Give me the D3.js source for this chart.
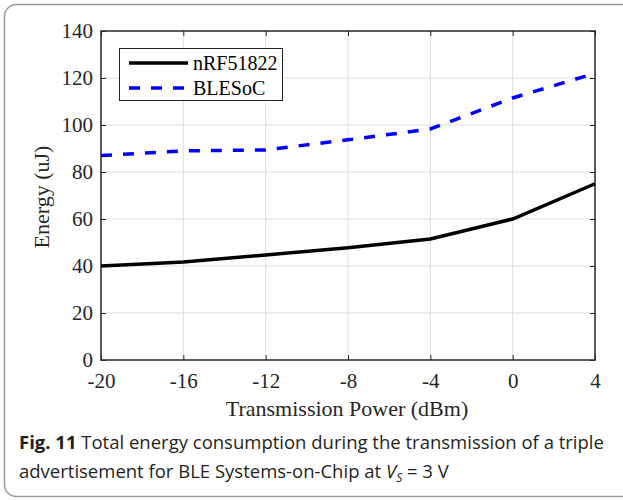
<!DOCTYPE html>
<html>
<head>
<meta charset="utf-8">
<script src="https://cdn.jsdelivr.net/npm/d3@7"></script>
<style>
  body { margin: 0; background: #fff; }
  svg { display: block; }
</style>
</head>
<body>
<div class="chart"></div>
<script>
// data
const power = [-20, -16, -12, -8, -4, 0, 4];
const nrf51822 = [40, 41.7, 44.7, 47.8, 51.5, 60, 75];
const blesoc = [87, 89, 89.4, 93.7, 98.3, 111.5, 122];
const yTicks = [0, 20, 40, 60, 80, 100, 120, 140];

const W = 623, H = 500;
const pLeft = 101, pRight = 595, pTop = 31, pBottom = 360;
const serif = "'Liberation Serif', 'Times New Roman', serif";
const sans = "'Open Sans', 'Noto Sans', sans-serif";

const svg = d3.select(".chart").append("svg")
    .attr("width", W).attr("height", H);

// rounded figure frame
svg.append("rect")
    .attr("x", 4.5).attr("y", 4.5)
    .attr("width", 640).attr("height", 492)
    .attr("rx", 12)
    .attr("fill", "none")
    .attr("stroke", "#9a9a9a")
    .attr("stroke-width", 1.5);

const x = d3.scaleLinear().domain([-20, 4]).range([pLeft, pRight]);
const y = d3.scaleLinear().domain([0, 140]).range([pBottom, pTop]);

// grid
svg.append("g").selectAll("line").data(power.slice(1, -1)).join("line")
    .attr("x1", d => x(d)).attr("x2", d => x(d))
    .attr("y1", pTop).attr("y2", pBottom)
    .attr("stroke", "#dedede").attr("stroke-width", 1);
svg.append("g").selectAll("line").data(yTicks.slice(1, -1)).join("line")
    .attr("x1", pLeft).attr("x2", pRight)
    .attr("y1", d => y(d)).attr("y2", d => y(d))
    .attr("stroke", "#dedede").attr("stroke-width", 1);

// axes (ticks pointing in, MATLAB style)
function styleAxis(g) {
    g.select(".domain").remove();
    g.selectAll("line").attr("stroke", "#262626").attr("stroke-width", 1);
    g.selectAll("text").attr("font-family", serif).attr("font-size", 21).attr("fill", "#262626");
}
svg.append("g")
    .attr("transform", "translate(0," + pBottom + ")")
    .call(d3.axisBottom(x).tickValues(power).tickSizeInner(-5).tickSizeOuter(0).tickPadding(13).tickFormat(d => String(d)))
    .call(styleAxis);
svg.append("g")
    .attr("transform", "translate(0," + pTop + ")")
    .call(d3.axisTop(x).tickValues(power).tickSizeInner(-5).tickSizeOuter(0).tickFormat(""))
    .call(styleAxis);
svg.append("g")
    .attr("transform", "translate(" + pLeft + ",0)")
    .call(d3.axisLeft(y).tickValues(yTicks).tickSizeInner(-5).tickSizeOuter(0).tickPadding(8))
    .call(styleAxis);
svg.append("g")
    .attr("transform", "translate(" + pRight + ",0)")
    .call(d3.axisRight(y).tickValues(yTicks).tickSizeInner(-5).tickSizeOuter(0).tickFormat(""))
    .call(styleAxis);

// box
svg.append("rect")
    .attr("x", pLeft).attr("y", pTop)
    .attr("width", pRight - pLeft).attr("height", pBottom - pTop)
    .attr("fill", "none").attr("stroke", "#262626").attr("stroke-width", 1.5);

// lines
const line = d3.line().x((d, i) => x(power[i])).y(d => y(d));
svg.append("path").datum(nrf51822)
    .attr("fill", "none").attr("stroke", "#000")
    .attr("stroke-width", 3.5)
    .attr("d", line);
svg.append("path").datum(blesoc)
    .attr("fill", "none").attr("stroke", "#0000ff")
    .attr("stroke-width", 3.5)
    .attr("stroke-dasharray", "11,11")
    .attr("d", line);

// axis titles
svg.append("text")
    .attr("x", 347).attr("y", 416)
    .attr("text-anchor", "middle")
    .attr("font-family", serif).attr("font-size", 22).attr("fill", "#262626")
    .text("Transmission Power (dBm)");
svg.append("text")
    .attr("transform", "translate(49,197) rotate(-90)")
    .attr("text-anchor", "middle")
    .attr("font-family", serif).attr("font-size", 22).attr("fill", "#262626")
    .text("Energy (uJ)");

// legend
const lg = svg.append("g");
lg.append("rect")
    .attr("x", 119.5).attr("y", 48.5).attr("width", 163).attr("height", 52)
    .attr("fill", "#fff").attr("stroke", "#262626").attr("stroke-width", 1);
const entries = [
    {name: "nRF51822", color: "#000", dash: null},
    {name: "BLESoC", color: "#0000ff", dash: "11,11"}
];
entries.forEach(function(e, i) {
    const ly = 63 + i * 25;
    lg.append("line")
        .attr("x1", 129).attr("x2", 188).attr("y1", ly).attr("y2", ly)
        .attr("stroke", e.color).attr("stroke-width", 3.5)
        .attr("stroke-dasharray", e.dash);
    lg.append("text")
        .attr("x", 193).attr("y", ly + 7)
        .attr("font-family", serif).attr("font-size", 20).attr("fill", "#000")
        .text(e.name);
});

// caption
const cap1 = svg.append("text")
    .attr("x", 19).attr("y", 449)
    .attr("font-family", sans).attr("font-size", 18.5).attr("fill", "#231f20");
cap1.append("tspan").attr("font-weight", "bold").text("Fig. 11");
cap1.append("tspan").text(" Total energy consumption during the transmission of a triple");
const cap2 = svg.append("text")
    .attr("x", 19).attr("y", 478)
    .attr("font-family", sans).attr("font-size", 18.5).attr("fill", "#231f20");
cap2.append("tspan").text("advertisement for BLE Systems-on-Chip at ");
cap2.append("tspan").attr("font-style", "italic").text("V");
cap2.append("tspan").attr("font-style", "italic").attr("font-size", 12).attr("dy", 4).text("S");
cap2.append("tspan").attr("dy", -4).text(" = 3 V");
</script>
</body>
</html>
